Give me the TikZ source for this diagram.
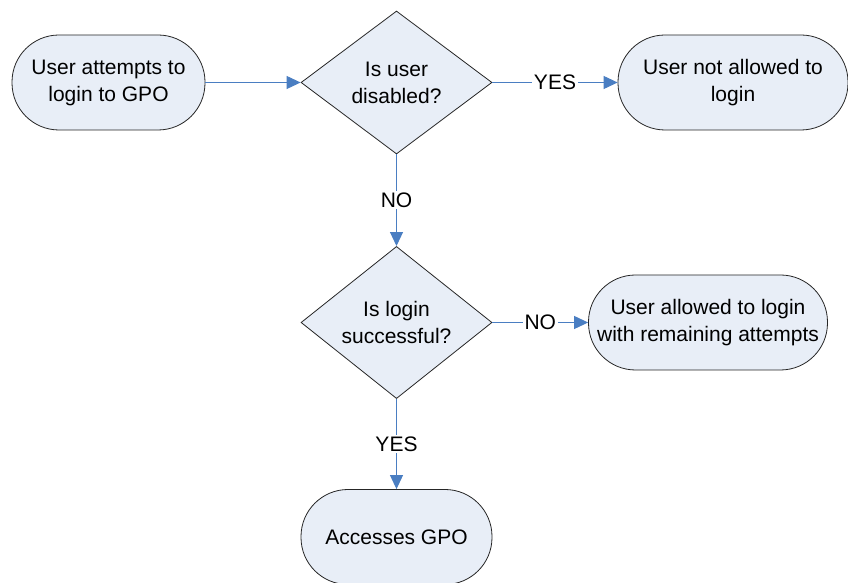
\documentclass[tikz,border=0pt]{standalone}
\usepackage{fontspec}
\setmainfont{Liberation Sans}
\usetikzlibrary{shapes.geometric,arrows.meta}
\definecolor{boxfill}{RGB}{232,238,247}
\definecolor{flowblue}{RGB}{74,126,194}
\tikzset{
  every node/.style={font=\fontsize{21}{27}\selectfont, align=center},
  terminal/.style={draw=black!85, line width=0.8pt, fill=boxfill,
    rectangle, rounded corners=47pt, minimum height=95pt, inner sep=0pt},
  decision/.style={draw=black!85, line width=0.8pt, fill=boxfill,
    diamond, minimum width=191pt, minimum height=143pt, inner sep=0pt},
  flow/.style={draw=flowblue, line width=1pt,
    -{Triangle[length=14pt,width=13pt,fill=flowblue]}},
  branch/.style={fill=white, inner sep=1.5pt, pos=0.5}
}
\begin{document}
\begin{tikzpicture}[x=1pt,y=1pt]
  \useasboundingbox (0,0) rectangle (848,583);
  \clip (0,0) rectangle (848,583);

  % nodes of the login flow
  \node[terminal, minimum width=193pt] (start) at (108.5,500.5)
    {User attempts to\\login to GPO};
  \node[decision] (disabled) at (396.5,500.5) {Is user\\disabled?};
  \node[terminal, minimum width=230pt] (denied) at (733,500.5)
    {User not allowed to\\login};
  \node[decision] (success) at (396.5,260.5) {Is login\\successful?};
  \node[terminal, minimum width=239pt] (retry) at (708,260.5)
    {User allowed to login\\with remaining attempts};
  \node[terminal, minimum width=191pt] (access) at (396.5,46)
    {Accesses GPO};

  % connectors
  \draw[flow] (start.east) -- (disabled.west);
  \draw[flow] (disabled.east) -- node[branch] (l1) {YES} (denied.west);
  \draw[flow] (disabled.south) -- node[branch] (l2) {NO} (success.north);
  \draw[flow] (success.east) -- node[branch] (l3) {NO} (retry.west);
  \draw[flow] (success.south) -- node[branch] (l4) {YES} (access.north);
\end{tikzpicture}
\end{document}
